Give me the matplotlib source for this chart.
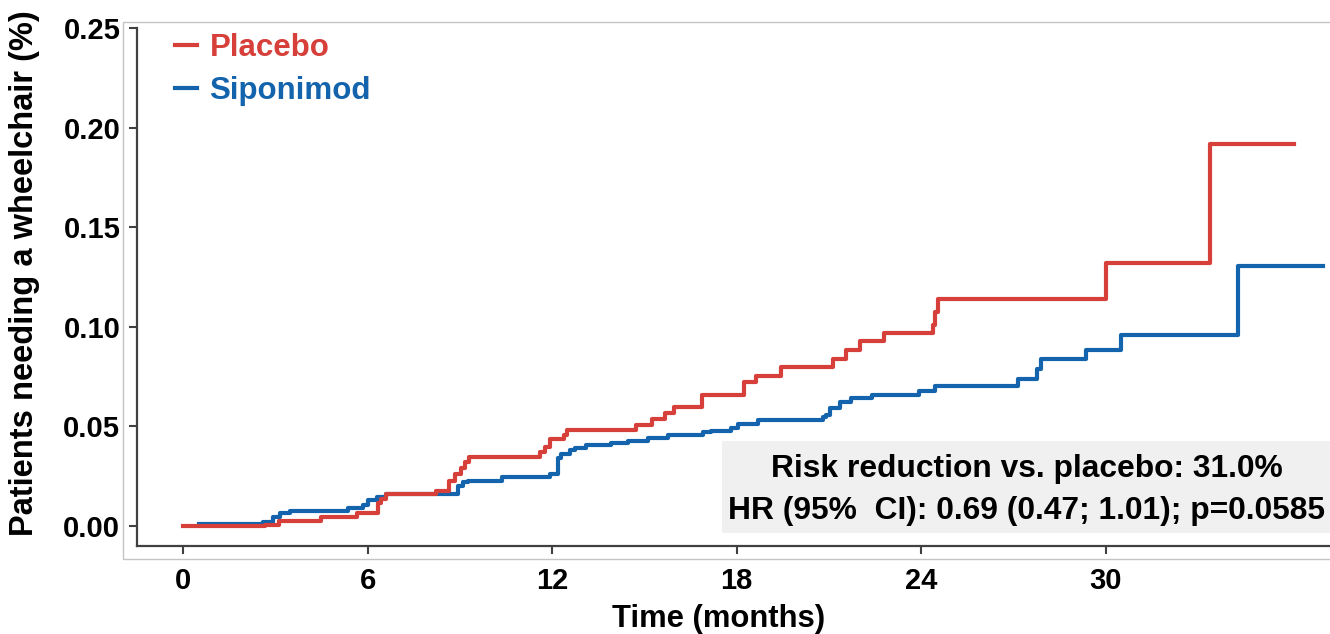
import matplotlib.pyplot as plt
from matplotlib.patches import Rectangle

plt.rcParams['font.family'] = ['Liberation Sans', 'DejaVu Sans']
plt.rcParams['font.weight'] = 'bold'

# cumulative proportion (step function, post)
placebo_t = [0, 2.66, 3.12, 4.5, 5.64, 6.34, 6.45, 6.6, 8.24, 8.66, 8.84, 9.03,
             9.16, 9.3, 11.6, 11.76, 11.93, 12.4, 12.5, 14.72, 15.26, 15.67,
             15.97, 16.86, 18.23, 18.64, 19.45, 21.13, 21.56, 22.0, 22.79,
             24.38, 24.46, 24.55, 30.02, 33.4, 36.14]
placebo_y = [0.0, 0.0005, 0.0027, 0.0047, 0.0064, 0.0115, 0.0136, 0.0159,
             0.0176, 0.0223, 0.026, 0.029, 0.032, 0.0345, 0.0369, 0.0394,
             0.0436, 0.0458, 0.0483, 0.0505, 0.0537, 0.0567, 0.0597, 0.0655,
             0.0723, 0.0755, 0.0798, 0.084, 0.0885, 0.0927, 0.0969, 0.1011,
             0.1075, 0.114, 0.1321, 0.192, 0.192]

sipo_t = [0.52, 2.6, 2.93, 3.15, 3.48, 5.36, 5.85, 6.0, 6.3, 6.6, 8.95, 9.11,
          9.27, 10.36, 11.93, 12.2, 12.3, 12.58, 12.74, 13.1, 13.93, 14.47,
          15.12, 15.77, 16.91, 17.16, 17.83, 18.05, 18.7, 20.8, 20.9, 21.03,
          21.35, 21.73, 22.4, 23.92, 24.44, 27.15, 27.77, 27.9, 29.36, 30.5,
          34.32, 37.06]
sipo_y = [0.001, 0.002, 0.0047, 0.0065, 0.0077, 0.009, 0.0106, 0.013, 0.0146,
          0.0159, 0.0198, 0.0218, 0.0226, 0.0243, 0.026, 0.034, 0.0362,
          0.0379, 0.039, 0.0404, 0.0416, 0.0428, 0.0441, 0.0454, 0.0469,
          0.0478, 0.0491, 0.0513, 0.0533, 0.0545, 0.0558, 0.0592, 0.062,
          0.0642, 0.0655, 0.0676, 0.0701, 0.0738, 0.0788, 0.084, 0.0885,
          0.096, 0.1304, 0.1304]

xticks = [0, 6, 12, 18, 24, 30]
yticks = [0.0, 0.05, 0.10, 0.15, 0.20, 0.25]

red = '#d63f3a'
blue = '#1464ad'
W, H = 1330, 634

fig = plt.figure(figsize=(13.3, 6.34), dpi=100)
ax = fig.add_axes([137 / W, 1 - 546 / H, 1 - 137 / W, (546 - 28) / H])
ax.patch.set_facecolor('none')

# light outer frame
fig.add_artist(Rectangle((123 / W, 1 - 559 / H), 1.0, (559 - 22) / H,
                         transform=fig.transFigure, facecolor='none',
                         edgecolor='#c4c4c4', lw=1.0, zorder=0))

# stats box
ax.add_patch(Rectangle((722 / W, 1 - 533 / H), (W - 722) / W, (533 - 441) / H,
                       transform=fig.transFigure, facecolor='#f0f0f0',
                       edgecolor='none', zorder=0, clip_on=False))
fig.text(1027 / W, 1 - 469 / H, 'Risk reduction vs. placebo: 31.0%',
         ha='center', va='center', fontsize=22.9, fontweight='bold')
fig.text(1027 / W, 1 - 511 / H, 'HR (95%  CI): 0.69 (0.47; 1.01); p=0.0585',
         ha='center', va='center', fontsize=22.9, fontweight='bold')

ax.step(sipo_t, sipo_y, where='post', color=blue, lw=3, label='Siponimod',
        zorder=3)
ax.step(placebo_t, placebo_y, where='post', color=red, lw=3, label='Placebo',
        zorder=4)

ax.set_xlim(-1.5, 37.3)
ax.set_ylim(-0.0101, 0.25)
ax.set_xticks(xticks)
ax.set_yticks(yticks)
ax.set_yticklabels(['%.2f' % v for v in yticks])

for s in ['top', 'right']:
    ax.spines[s].set_visible(False)
for s in ['left', 'bottom']:
    ax.spines[s].set_color('#404040')
    ax.spines[s].set_linewidth(1.6)
ax.tick_params(length=6, width=1.5, color='#404040', labelsize=21)
ax.tick_params(axis='y', pad=6)
ax.tick_params(axis='x', pad=9)
for lab in ax.get_xticklabels() + ax.get_yticklabels():
    lab.set_fontweight('bold')

h, l = ax.get_legend_handles_labels()
leg = ax.legend(h[::-1], l[::-1], loc='upper left', frameon=False,
                prop={'size': 22.5, 'weight': 'bold'}, handlelength=0.7,
                handletextpad=0.4, labelspacing=0.42, borderpad=0,
                borderaxespad=0, labelcolor='linecolor')
leg.set_bbox_to_anchor((175 / W, 1 - 33 / H), transform=fig.transFigure)

fig.text(719 / W, 1 - 619 / H, 'Time (months)', ha='center', va='center',
         fontsize=22.3, fontweight='bold')
fig.text(25 / W, 1 - 273 / H, 'Patients needing a wheelchair (%)', ha='center',
         va='center', rotation=90, fontsize=23.5, fontweight='bold')

fig.savefig('out.png', dpi=100)
